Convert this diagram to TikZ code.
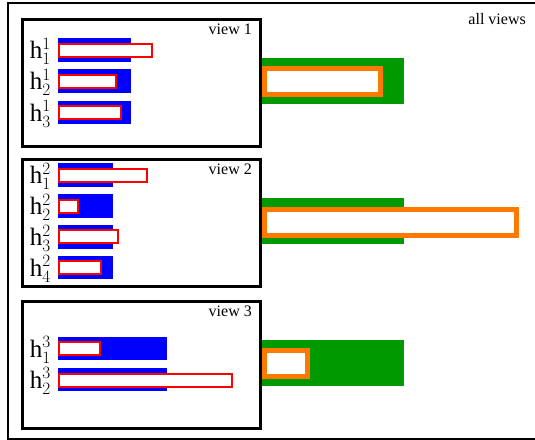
\documentclass[tikz,border=0pt]{standalone}
\usepackage{fontspec}
\setmainfont{Liberation Serif}
\setmathrm{Liberation Serif}
\usetikzlibrary{positioning}

\definecolor{barblue}{RGB}{0,0,255}
\definecolor{barred}{RGB}{255,0,0}
\definecolor{bargreen}{RGB}{0,153,0}
\definecolor{barorange}{RGB}{255,120,0}

\begin{document}
\begin{tikzpicture}[x=1pt, y=-1pt,
        frame/.style={draw, line width=2pt},
        viewbox/.style={draw, rectangle, line width=2.5pt, minimum width=238pt, minimum height=127pt, anchor=north west, inner sep=0pt},
        viewlabel/.style={font=\fontsize{16}{18}\selectfont, anchor=base east, inner sep=0pt},
        hlabel/.style={font=\fontsize{25}{28}\selectfont, anchor=base east, inner sep=0pt},
        bluebar/.style={fill=barblue},
        redbox/.style={draw=barred, line width=2pt, fill=white},
        greenbar/.style={fill=bargreen},
        orangebox/.style={draw=barorange, line width=5pt, fill=white}
    ]
        \useasboundingbox (0,0) rectangle (535,439);
        \clip (0,0) rectangle (535,439);
        \draw[frame] (8.3,2.7) rectangle (560,438.5);
        \node[viewlabel] (all) at (526,24) {all views};

        % one box per view
        \foreach \v/\top in {1/18.25, 2/158.25, 3/300.25} {
            \node[viewbox] (view\v) at (21.25,\top) {};
            \node[viewlabel] (vlab\v) at (252,\top+16) {view \v};
        }

        % combined bars on the right
        \foreach \v/\y/\oy/\ox in {1/81/81.5/380.5, 2/221/222.5/516.5, 3/363/363/307.5} {
            \fill[greenbar] (view\v.east |- 0,\y-23) rectangle (404,\y+23);
            \draw[orangebox] (264.5,\oy-13) rectangle (\ox,\oy+13);
        }

        % per-view bars
        \foreach \v/\r/\y/\bx/\ry/\rx in {1/1/50/131/50/152, 1/2/81/131/81.5/116, 1/3/112.5/131/112.5/121,
                2/1/175/113/175/147, 2/2/206/113/206/78, 2/3/237/113/236.5/118, 2/4/267.5/113/267.5/101,
                3/1/348.5/167/348/100, 3/2/379.5/167/380/232} {
            \fill[bluebar] (58,\y-11.75) rectangle (\bx,\y+11.75);
            \draw[redbox] (59,\ry-6.5) rectangle (\rx,\ry+6.5);
            \node[hlabel] (h\v\r) at (51,\y+8.5) {$\mathrm{h}^{\v}_{\r}$};
        }
    \end{tikzpicture}
\end{document}
